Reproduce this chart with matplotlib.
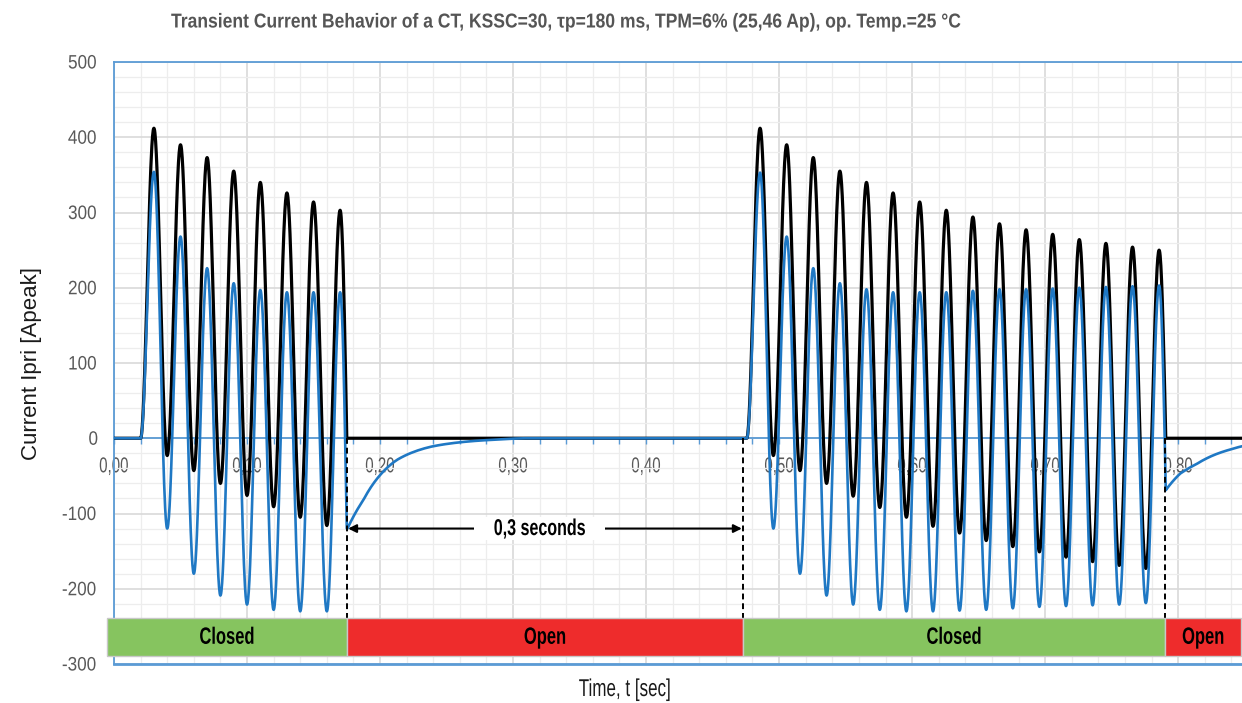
import numpy as np
import matplotlib
matplotlib.use("Agg")
import matplotlib.pyplot as plt
from matplotlib.patches import Rectangle
from matplotlib.ticker import MultipleLocator, FuncFormatter
from matplotlib.patheffects import AbstractPathEffect
from matplotlib.transforms import Affine2D

# ---- data ----
period = 0.02
seg_start = [0.020, 0.4757]          # breaker closes, current starts
switch_t = [0.175, 0.473, 0.790]     # dashed switching lines

black_peaks_1 = [412, 390, 373, 355, 340, 326, 314, 303]
black_troughs_1 = [-23, -43, -60, -76, -91, -105, -116]
blue_peaks_1 = [354, 268, 226, 206, 197, 194, 194, 194]
blue_troughs_1 = [-120, -180, -209, -221, -228, -230, -230]

black_peaks_2 = [412, 390, 373, 355, 340, 326, 314, 303, 294, 285, 277, 271, 264, 259, 254, 250]
black_troughs_2 = [-23, -43, -60, -77, -92, -105, -117, -126, -136, -144, -151, -158, -164, -169, -173]
blue_peaks_2 = [353, 268, 226, 206, 198, 194, 194, 194, 196, 198, 198, 199, 200, 201, 202, 203]
blue_troughs_2 = [-120, -180, -209, -221, -228, -230, -230, -229, -228, -226, -224, -223, -222, -221, -219]

# secondary current decay after opening
tail1_t = [0.1755, 0.1875, 0.200, 0.2125, 0.2376, 0.2627, 0.288, 0.31, 0.4757]
tail1_v = [-120, -82, -49, -29, -11.5, -4.9, -1.8, 0, 0]
tail2_t = [0.7907, 0.8015, 0.8141, 0.8265, 0.8391, 0.8481, 0.86]
tail2_v = [-69, -47, -34, -22.6, -15, -10.6, -7]

states = ["Closed", "Open", "Closed", "Open"]
state_edges = [-0.0053, 0.1752, 0.4729, 0.7902, 0.8475]
state_colors = ["#86C45F", "#EE2C2C", "#86C45F", "#EE2C2C"]

xticks = [0.0, 0.1, 0.2, 0.3, 0.4, 0.5, 0.6, 0.7, 0.8]


class Squeeze(AbstractPathEffect):
    """squeeze text horizontally around its own centre (narrow font look)"""

    def __init__(self, sx=0.75):
        super().__init__()
        self.sx = sx

    def draw_path(self, renderer, gc, tpath, affine, rgbFace=None):
        ext = tpath.get_extents(affine)
        cx = (ext.x0 + ext.x1) / 2
        aff = affine + Affine2D().translate(-cx, 0).scale(self.sx, 1).translate(cx, 0)
        renderer.draw_path(gc, tpath, aff, rgbFace)


def half_cos(t0, t1, v0, v1, n=40):
    s = np.linspace(0, 1, n)
    return t0 + (t1 - t0) * s, v0 + (v1 - v0) * (1 - np.cos(np.pi * s)) / 2


def quarter_down(t0, t1, v0, v1, n=20):
    s = np.linspace(0, 1, n)
    return t0 + (t1 - t0) * s, v1 + (v0 - v1) * np.cos(np.pi / 2 * s)


def burst(t0, peaks, troughs, end_val):
    # knots: start at 0, alternate peak/trough every half period
    kt = [t0]
    kv = [0.0]
    for i, p in enumerate(peaks):
        kt.append(t0 + period / 2 + i * period)
        kv.append(p)
        if i < len(troughs):
            kt.append(t0 + period + i * period)
            kv.append(troughs[i])
    ts, vs = [], []
    for a in range(len(kt) - 1):
        t, v = half_cos(kt[a], kt[a + 1], kv[a], kv[a + 1])
        ts.append(t)
        vs.append(v)
    t, v = quarter_down(kt[-1], kt[-1] + period / 4, kv[-1], end_val)
    ts.append(t)
    vs.append(v)
    return np.concatenate(ts), np.concatenate(vs)


def tail(tt, vv, n=120):
    t = np.linspace(tt[0], tt[-1], n)
    lv = np.interp(t, tt, np.log(-np.array(vv, float) + 0.5))
    return t, -(np.exp(lv) - 0.5)


# build curves
bk1_t, bk1_v = burst(seg_start[0], black_peaks_1, black_troughs_1, 0)
bk2_t, bk2_v = burst(seg_start[1], black_peaks_2, black_troughs_2, 0)
bl1_t, bl1_v = burst(seg_start[0], blue_peaks_1, blue_troughs_1, tail1_v[0])
bl2_t, bl2_v = burst(seg_start[1], blue_peaks_2, blue_troughs_2, tail2_v[0])
tl1_t, tl1_v = tail(tail1_t, tail1_v)
tl2_t, tl2_v = tail(tail2_t, tail2_v)

black_t = np.concatenate([[0.0], bk1_t, bk2_t, [0.87]])
black_v = np.concatenate([[0.0], bk1_v, bk2_v, [0.0]])
blue_t = np.concatenate([[0.0], bl1_t, tl1_t, bl2_t, tl2_t])
blue_v = np.concatenate([[0.0], bl1_v, tl1_v, bl2_v, tl2_v])

plt.rcParams["font.family"] = ["Liberation Sans", "DejaVu Sans"]
plt.rcParams["axes.unicode_minus"] = False

fig = plt.figure(figsize=(12.42, 7.03), dpi=100)
ax = fig.add_axes([114 / 1242, 1 - 664 / 703, (1242 - 114) / 1242, 602 / 703])
ax.set_xlim(0, 0.848)
ax.set_ylim(-300, 500)

ax.xaxis.set_major_locator(MultipleLocator(0.1))
ax.xaxis.set_minor_locator(MultipleLocator(0.02))
ax.yaxis.set_major_locator(MultipleLocator(100))
ax.yaxis.set_minor_locator(MultipleLocator(20))
ax.grid(which="major", color="#D9D9D9", lw=1.2)
ax.grid(which="minor", color="#EDEDED", lw=0.9)
ax.set_axisbelow(True)

frame = "#5B9BD5"
ax.spines["right"].set_visible(False)
for s in ["top", "left", "bottom"]:
    ax.spines[s].set_color(frame)
    ax.spines[s].set_linewidth(1.3)
ax.spines["bottom"].set_position(("data", 0))
ax.axhline(-300, color=frame, lw=2.0, clip_on=False, zorder=1)

ax.set_xticks(xticks)
ax.xaxis.set_major_formatter(FuncFormatter(lambda v, p: f"{v:.2f}".replace(".", ",")))
ax.tick_params(axis="x", which="both", direction="out", color=frame, length=4, width=1,
               labelsize=15.5, labelcolor="#595959", pad=9)
ax.tick_params(axis="y", which="both", length=0, labelsize=14, labelcolor="#595959", pad=11)

ax.plot(black_t, black_v, color="black", lw=2.3, zorder=3, solid_joinstyle="round")
ax.plot(blue_t, blue_v, color="#1F78C4", lw=1.9, zorder=4, solid_joinstyle="round")

# switching markers
for t in switch_t:
    ax.plot([t, t], [0, -240], color="black", ls=(0, (3, 2)), lw=1.4, zorder=5)

narrow = [Squeeze(0.7)]

# state bar
for i, name in enumerate(states):
    x0, x1 = state_edges[i], state_edges[i + 1]
    ax.add_patch(Rectangle((x0, -290), x1 - x0, 51, facecolor=state_colors[i],
                           edgecolor="#C8C8C8", lw=1, zorder=6, clip_on=False))
    ax.text((x0 + x1) / 2, -264.5, name, ha="center", va="center", fontsize=17,
            fontweight="bold", color="black", zorder=7, path_effects=narrow)

# 0,3 seconds arrow
ax.annotate("", xy=(switch_t[0] + 0.001, -120), xytext=(switch_t[1] - 0.001, -120),
            arrowprops=dict(arrowstyle="<|-|>", color="black", lw=1.5,
                            mutation_scale=12, shrinkA=0, shrinkB=0), zorder=6)
ax.text(0.32, -120, "0,3 seconds", ha="center", va="center", fontsize=16.5,
        fontweight="bold", color="black", zorder=7, path_effects=narrow,
        bbox=dict(facecolor="white", edgecolor="none", pad=0))

ax.set_ylabel("Current Ipri [Apeak]", fontsize=16, color="#1a1a1a", labelpad=13)
fig.text(0.503, 1 - 690 / 703, "Time, t [sec]", ha="center", va="center", fontsize=17.5,
         color="#1a1a1a", path_effects=narrow)
fig.text(0.456, 1 - 22 / 703,
         "Transient Current Behavior of a CT, KSSC=30, \u03c4p=180 ms, TPM=6% (25,46 Ap), op. Temp.=25 \u00b0C",
         ha="center", va="center", fontsize=14.5, fontweight="bold", color="#555555",
         path_effects=[Squeeze(0.87)])

fig.canvas.draw()
for lbl in ax.get_xticklabels():
    lbl.set_path_effects([Squeeze(0.7)])
for lbl in ax.get_yticklabels():
    lbl.set_path_effects([Squeeze(0.88)])

fig.savefig("out.png", dpi=100)
